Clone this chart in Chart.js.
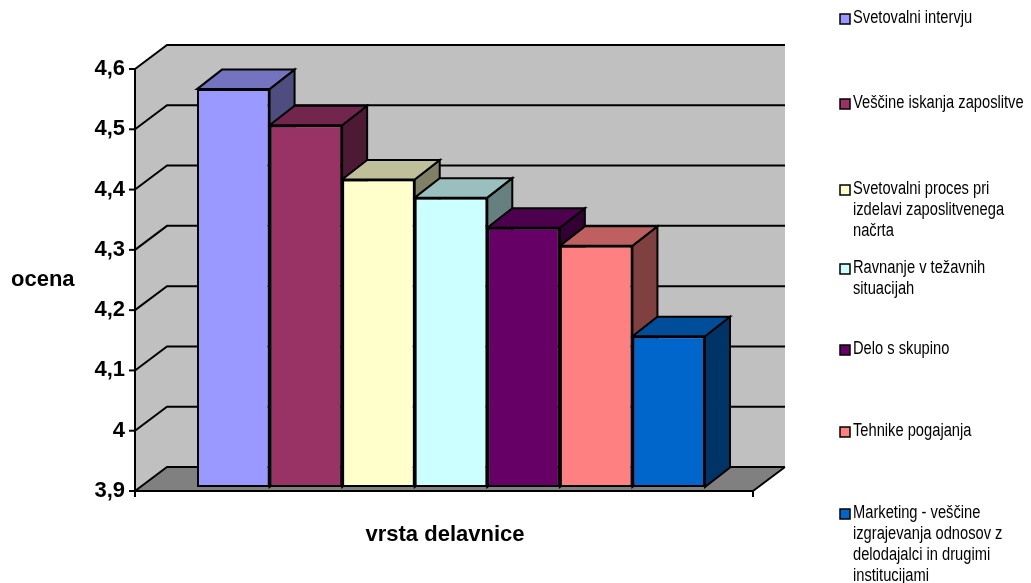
<!DOCTYPE html>
<html>
<head>
<meta charset="utf-8">
<script src="https://cdn.jsdelivr.net/npm/chart.js@4.4.1/dist/chart.umd.min.js"></script>
<style>
    body { margin: 0; background: #fff; }
    canvas { display: block; }
</style>
</head>
<body>
<canvas id="chart" width="1031" height="583"></canvas>
<script>
// Chart data
const categories = [''];
const seriesNames = [
    ['Svetovalni intervju'],
    ['Veščine iskanja zaposlitve'],
    ['Svetovalni proces pri', 'izdelavi zaposlitvenega', 'načrta'],
    ['Ravnanje v težavnih', 'situacijah'],
    ['Delo s skupino'],
    ['Tehnike pogajanja'],
    ['Marketing - veščine', 'izgrajevanja odnosov z', 'delodajalci in drugimi', 'institucijami']
];
const seriesValues = [4.56, 4.50, 4.41, 4.38, 4.33, 4.30, 4.15];
const yMin = 3.9;
const yMax = 4.6;
const yStep = 0.1;
const yTickLabels = ['3,9', '4', '4,1', '4,2', '4,3', '4,4', '4,5', '4,6'];
const yAxisTitle = 'ocena';
const xAxisTitle = 'vrsta delavnice';

// Colours
const frontColors = ['#9999FF', '#993366', '#FFFFCC', '#CCFFFF', '#660066', '#FF8080', '#0066CC'];
const shade = (hex, f) => {
    const n = parseInt(hex.slice(1), 16);
    const r = Math.round(((n >> 16) & 255) * f);
    const g = Math.round(((n >> 8) & 255) * f);
    const b = Math.round((n & 255) * f);
    return `rgb(${r},${g},${b})`;
};
const topColors = frontColors.map(c => shade(c, 0.75));
const sideColors = frontColors.map(c => shade(c, 0.5));

// 3D offsets relative to the plane of the bar fronts
const frontOff = { x: -7, y: 4 };
const backOff = { x: 25, y: -20 };
const barDepth = { x: 25, y: -19.5 };
const FONT = '"Liberation Sans", Arial, sans-serif';

const poly = (ctx, pts, fill) => {
    ctx.beginPath();
    ctx.moveTo(pts[0][0], pts[0][1]);
    pts.slice(1).forEach(p => ctx.lineTo(p[0], p[1]));
    ctx.closePath();
    if (fill) {
        ctx.fillStyle = fill;
        ctx.fill();
    }
    ctx.stroke();
};

const walls3d = {
    id: 'walls3d',
    beforeDatasetsDraw(chart) {
        const { ctx, chartArea: a, scales: { y } } = chart;
        const fl = a.left + frontOff.x, fr = a.right + frontOff.x;
        const bl = a.left + backOff.x, br = a.right + backOff.x;
        const fy = v => y.getPixelForValue(v) + frontOff.y;
        const by = v => y.getPixelForValue(v) + backOff.y;
        const lo = y.min, hi = y.max;

        ctx.save();
        // side wall + back wall
        ctx.fillStyle = '#C0C0C0';
        ctx.beginPath();
        ctx.moveTo(fl, fy(lo)); ctx.lineTo(fl, fy(hi)); ctx.lineTo(bl, by(hi)); ctx.lineTo(bl, by(lo));
        ctx.closePath();
        ctx.fill();
        ctx.fillRect(bl, by(hi), br - bl, by(lo) - by(hi));
        // floor
        ctx.fillStyle = '#808080';
        ctx.beginPath();
        ctx.moveTo(fl, fy(lo)); ctx.lineTo(fr, fy(lo)); ctx.lineTo(br, by(lo)); ctx.lineTo(bl, by(lo));
        ctx.closePath();
        ctx.fill();

        // gridlines on side and back wall
        ctx.strokeStyle = '#000';
        ctx.lineWidth = 2;
        y.ticks.forEach(t => {
            ctx.beginPath();
            ctx.moveTo(fl, fy(t.value));
            ctx.lineTo(bl, by(t.value));
            ctx.lineTo(br, by(t.value));
            ctx.stroke();
            // tick mark
            ctx.beginPath();
            ctx.moveTo(fl - 6, fy(t.value));
            ctx.lineTo(fl, fy(t.value));
            ctx.stroke();
        });
        // floor right edge, axes
        ctx.beginPath();
        ctx.moveTo(fr, fy(lo)); ctx.lineTo(br, by(lo));
        ctx.moveTo(fl, fy(hi)); ctx.lineTo(fl, fy(lo) + 6);
        ctx.moveTo(fl, fy(lo)); ctx.lineTo(fr, fy(lo));
        ctx.moveTo(fr, fy(lo)); ctx.lineTo(fr, fy(lo) + 6);
        ctx.stroke();

        // bar sides and tops
        chart.data.datasets.forEach((ds, i) => {
            chart.getDatasetMeta(i).data.forEach(el => {
                const l = el.x - el.width / 2, r = el.x + el.width / 2;
                const t = el.y, b = Math.min(el.base, a.bottom);
                const dx = barDepth.x, dy = barDepth.y;
                poly(ctx, [[r, t], [r + dx, t + dy], [r + dx, b + dy], [r, b]], sideColors[i]);
                poly(ctx, [[l, t], [l + dx, t + dy], [r + dx, t + dy], [r, t]], topColors[i]);
            });
        });
        ctx.restore();
    },
    afterDraw(chart) {
        const { ctx } = chart;
        ctx.save();
        ctx.fillStyle = '#000';
        ctx.textBaseline = 'alphabetic';
        ctx.font = `bold 22px ${FONT}`;
        ctx.textAlign = 'left';
        ctx.fillText(yAxisTitle, 11, 286);
        ctx.textAlign = 'center';
        ctx.fillText(xAxisTitle, 445, 541);

        // legend
        const legendY = [18, 103, 189, 268, 349, 431, 513];
        const lineH = 21;
        ctx.textAlign = 'left';
        ctx.textBaseline = 'middle';
        ctx.font = `14.7px ${FONT}`;
        ctx.lineWidth = 1.5;
        ctx.strokeStyle = '#000';
        chart.data.datasets.forEach((ds, i) => {
            const y0 = legendY[i];
            ctx.fillStyle = frontColors[i];
            ctx.fillRect(840, y0 - 4, 10, 10);
            ctx.strokeRect(840, y0 - 4, 10, 10);
            ctx.fillStyle = '#000';
            seriesNames[i].forEach((line, k) => {
                ctx.save();
                ctx.translate(853, y0 + k * lineH);
                ctx.scale(1, 1.2);
                ctx.fillText(line, 0, 0);
                ctx.restore();
            });
        });
        ctx.restore();
    }
};

const datasets = seriesNames.map((name, i) => ({
    label: name.join(' '),
    data: [seriesValues[i]],
    base: yMin,
    backgroundColor: frontColors[i],
    borderColor: '#000',
    borderWidth: 2,
    borderSkipped: false,
    categoryPercentage: 0.822,
    barPercentage: 1
}));

new Chart(document.getElementById('chart'), {
    type: 'bar',
    data: { labels: categories, datasets },
    options: {
        responsive: false,
        animation: false,
        events: [],
        layout: { padding: { left: 0, right: 271, top: 65, bottom: 96 } },
        plugins: {
            legend: { display: false },
            tooltip: { enabled: false }
        },
        scales: {
            x: { display: false },
            y: {
                min: yMin,
                max: yMax,
                grid: { display: false, drawTicks: false },
                border: { display: false },
                ticks: {
                    stepSize: yStep,
                    padding: 17,
                    labelOffset: 4,
                    color: '#000',
                    font: { family: FONT, size: 22, weight: 'bold' },
                    callback: (v, i) => yTickLabels[i]
                },
                afterFit: s => { s.width = 142; }
            }
        }
    },
    plugins: [walls3d]
});
</script>
</body>
</html>
